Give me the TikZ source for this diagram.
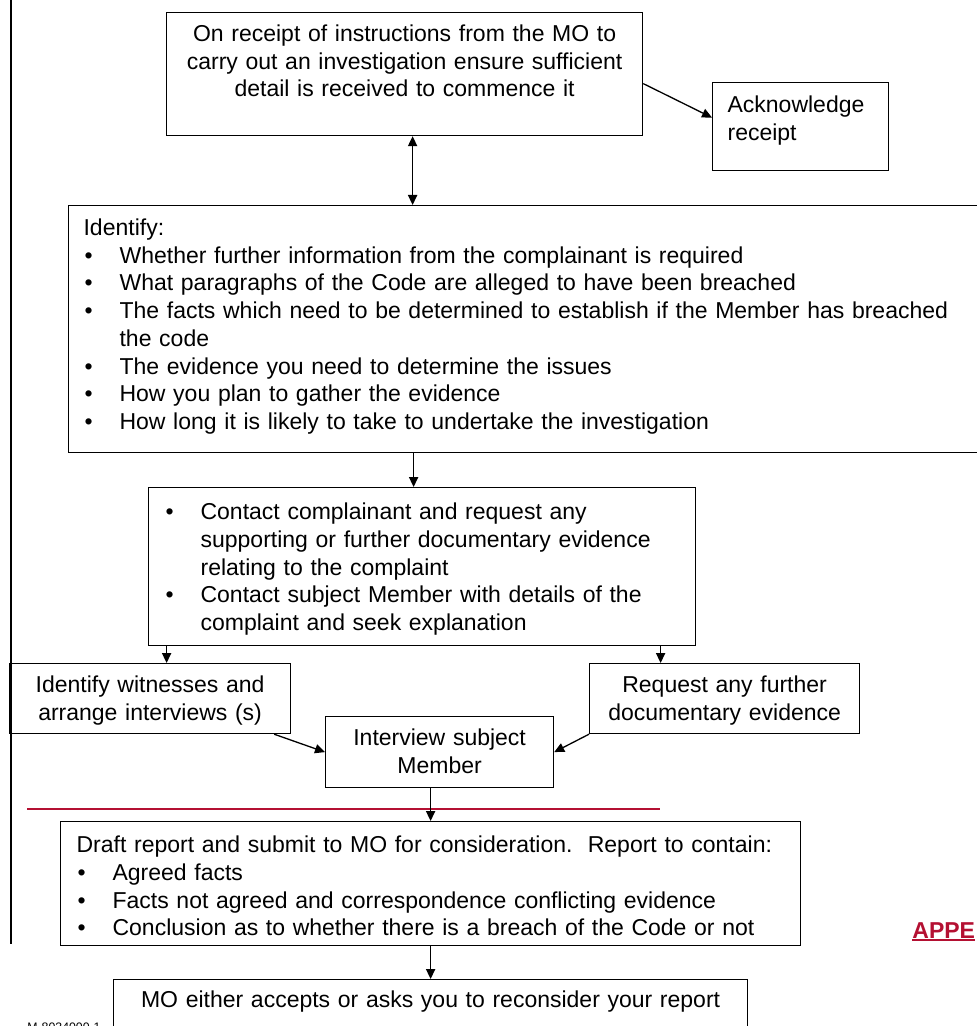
\documentclass[tikz,border=0pt]{standalone}
\usepackage{fontspec}
\setmainfont{Liberation Sans}
\usepackage{tikz}
\usetikzlibrary{arrows.meta}
\definecolor{appred}{RGB}{180,16,50}
\hyphenpenalty=10000
\exhyphenpenalty=10000
\newcommand{\bpoint}[2][18pt]{\hangindent=#1\hangafter=1\noindent\makebox[#1][l]{\hspace{0.5pt}\textbullet}#2\par}

\begin{document}
\begin{tikzpicture}[x=0.5pt,y=-0.5pt,
		box/.style={draw,line width=0.6pt,anchor=north west,inner ysep=0pt,inner xsep=5pt,text height=15pt,font=\fontsize{11.5pt}{13.85pt}\selectfont},
		arr/.style={-{Triangle[length=5pt,width=4.6pt]},line width=0.65pt},
		dbl/.style={{Triangle[length=5pt,width=4.6pt]}-{Triangle[length=5pt,width=4.6pt]},line width=0.65pt}]
		\useasboundingbox (0,0) rectangle (977,1026);
		\draw[line width=1.3pt] (11,0) to (11,944);
		\node[box,text width=228pt,align=center,text height=14.5pt,text depth=47pt] (receipt) at (166,12) {On receipt of instructions from the MO to\\carry out an investigation ensure sufficient\\detail is received to commence it};
		\node[box,text width=73pt,inner xsep=7.5pt,align=left,text depth=29pt] (ack) at (712,82) {Acknowledge\\receipt};
		\node[box,text width=446pt,inner xsep=7.5pt,align=left,text depth=108.5pt] (issues) at (68,205) {\noindent Identify:\par
			\bpoint{Whether further information from the complainant is required}
			\bpoint{What paragraphs of the Code are alleged to have been breached}
			\bpoint{The facts which need to be determined to establish if the Member has breached\newline the code}
			\bpoint{The evidence you need to determine the issues}
			\bpoint{How you plan to gather the evidence}
			\bpoint{How long it is likely to take to undertake the investigation}};
		\node[box,text width=257.5pt,inner xsep=8pt,align=left,text height=16pt,text depth=63pt] (contact) at (148,487) {\bpoint{Contact complainant and request any\newline supporting or further documentary evidence\newline relating to the complaint}
			\bpoint{Contact subject Member with details of the\newline complaint and seek explanation}};
		\node[box,text width=130.5pt,align=center,text height=14.5pt,text depth=20.5pt] (witness) at (9,663) {Identify witnesses and\\arrange interviews (s)};
		\node[box,text width=125pt,align=center,text height=14.5pt,text depth=20.5pt] (request) at (589,663) {Request any further\\documentary evidence};
		\node[box,text width=104pt,align=center,text height=14.5pt,text depth=21pt] (interview) at (325,716) {Interview subject\\Member};
		\draw[appred,line width=1pt] (27,809) to (660,809);
		\node[box,text width=354pt,inner xsep=8pt,align=left,text height=15.5pt,text depth=46.5pt] (draft) at (60,821) {\noindent\mbox{Draft report and submit to MO for consideration.\ \ Report to contain:}\par
			\bpoint{Agreed facts}
			\bpoint{Facts not agreed and correspondence conflicting evidence}
			\bpoint{Conclusion as to whether there is a breach of the Code or not}};
		\node[box,text width=307pt,align=center,text height=14pt,text depth=16.5pt] (mo) at (113,979) {MO either accepts or asks you to reconsider your report};
		\node[anchor=base west,inner sep=0pt,text=appred,font=\fontsize{11.5pt}{13.85pt}\selectfont\bfseries] (appx) at (912,938) {APPE};
		\draw[appred,line width=1pt] ([yshift=-1.2pt]appx.base west) to ([yshift=-1.2pt]appx.base east);
		\node[anchor=base west,inner sep=0pt,font=\fontsize{6.15pt}{7pt}\selectfont] (docref) at (27,1031) {M-8034000-1};
		\draw[arr] ([yshift=-4.75pt]receipt.east) to ([yshift=4.5pt]ack.west);
		\draw[dbl] ([xshift=4pt]receipt.south) to ([xshift=4pt]receipt.south |- issues.north);
		\draw[arr] ([xshift=-4.25pt]contact.north |- issues.south) to ([xshift=-4.25pt]contact.north);
		\draw[arr] ([xshift=8.25pt]witness.north |- contact.south) to ([xshift=8.25pt]witness.north);
		\draw[arr] ([xshift=-32pt]request.north |- contact.south) to ([xshift=-32pt]request.north);
		\draw[arr] ([xshift=-8.5pt]witness.south east) to (interview.west);
		\draw[arr] (request.south west) to (interview.east);
		\draw[arr] (interview.south -| draft.north) to (draft.north);
		\draw[arr] (mo.north |- draft.south) to (mo.north);
\end{tikzpicture}
\end{document}
